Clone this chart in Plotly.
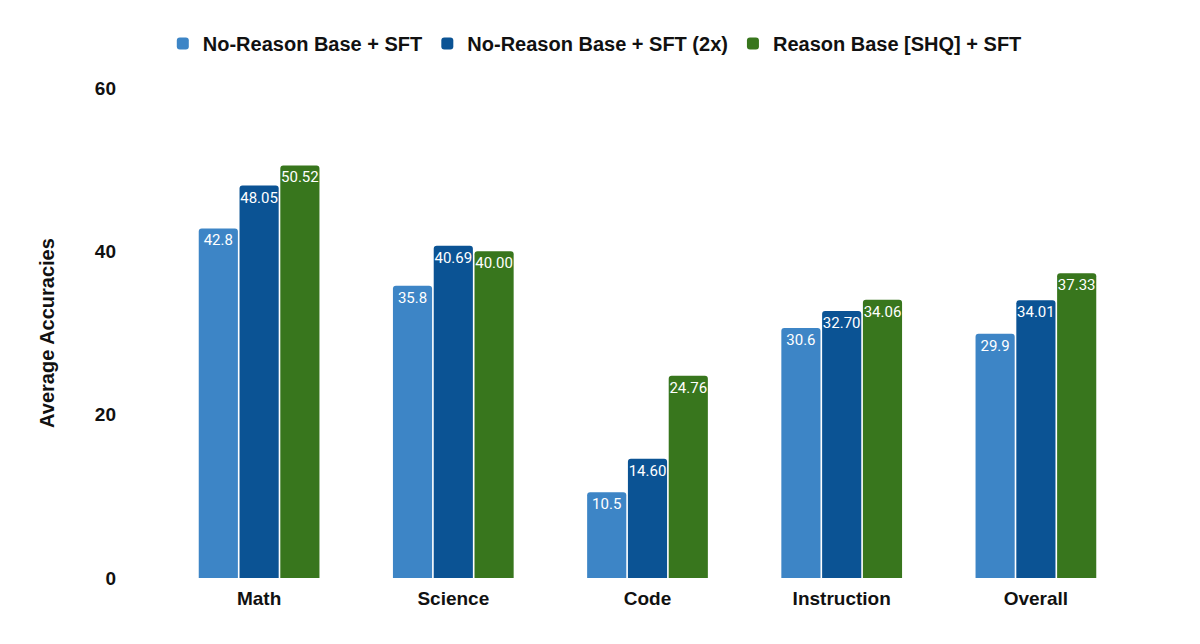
import plotly.graph_objects as go

# benchmark categories and average accuracies per training setup
categories = ['Math', 'Science', 'Code', 'Instruction', 'Overall']
no_reason_sft = [42.8, 35.8, 10.5, 30.6, 29.9]
no_reason_sft_2x = [48.05, 40.69, 14.60, 32.70, 34.01]
reason_shq_sft = [50.52, 40.00, 24.76, 34.06, 37.33]

labels_sft = ['42.8', '35.8', '10.5', '30.6', '29.9']
labels_sft_2x = ['48.05', '40.69', '14.60', '32.70', '34.01']
labels_shq = ['50.52', '40.00', '24.76', '34.06', '37.33']

series = [
    ('No-Reason Base + SFT', no_reason_sft, labels_sft, '#3d85c6'),
    ('No-Reason Base + SFT (2x)', no_reason_sft_2x, labels_sft_2x, '#0b5394'),
    ('Reason Base [SHQ] + SFT', reason_shq_sft, labels_shq, '#38761d'),
]

fig = go.Figure()
for name, vals, labels, color in series:
    fig.add_trace(go.Bar(x=categories, y=vals, name=name, text=labels,
                         textposition='inside', insidetextanchor='end',
                         constraintext='none', textangle=0,
                         textfont=dict(family='Roboto', size=15, color='white'),
                         marker=dict(color=color, cornerradius=3, line=dict(width=0))))

fig.update_layout(
    width=1200, height=644,
    barmode='group', bargap=0.37, bargroupgap=0.04,
    plot_bgcolor='white', paper_bgcolor='white',
    margin=dict(l=154, r=75, t=80, b=74, autoexpand=False),
    font=dict(family='Liberation Sans', color='#111111'),
    legend=dict(orientation='h', xref='container', x=0.489, xanchor='center',
                yref='container', y=0.945, yanchor='middle',
                font=dict(size=20, family='Liberation Sans', weight='bold'),
                itemwidth=30, traceorder='normal'),
    xaxis=dict(showgrid=False, showline=False, ticks='', automargin=False,
               ticklabelstandoff=7,
               tickfont=dict(size=19, weight='bold')),
    yaxis=dict(range=[0, 60], tickvals=[0, 20, 40, 60], showgrid=False,
               zeroline=False, showline=False, ticks='', ticklabelstandoff=45,
               automargin=False,
               tickfont=dict(size=19, weight='bold'),
               title=dict(text='Average Accuracies', standoff=34,
                          font=dict(size=20, weight='bold'))),
)

fig.write_html("out.html")
